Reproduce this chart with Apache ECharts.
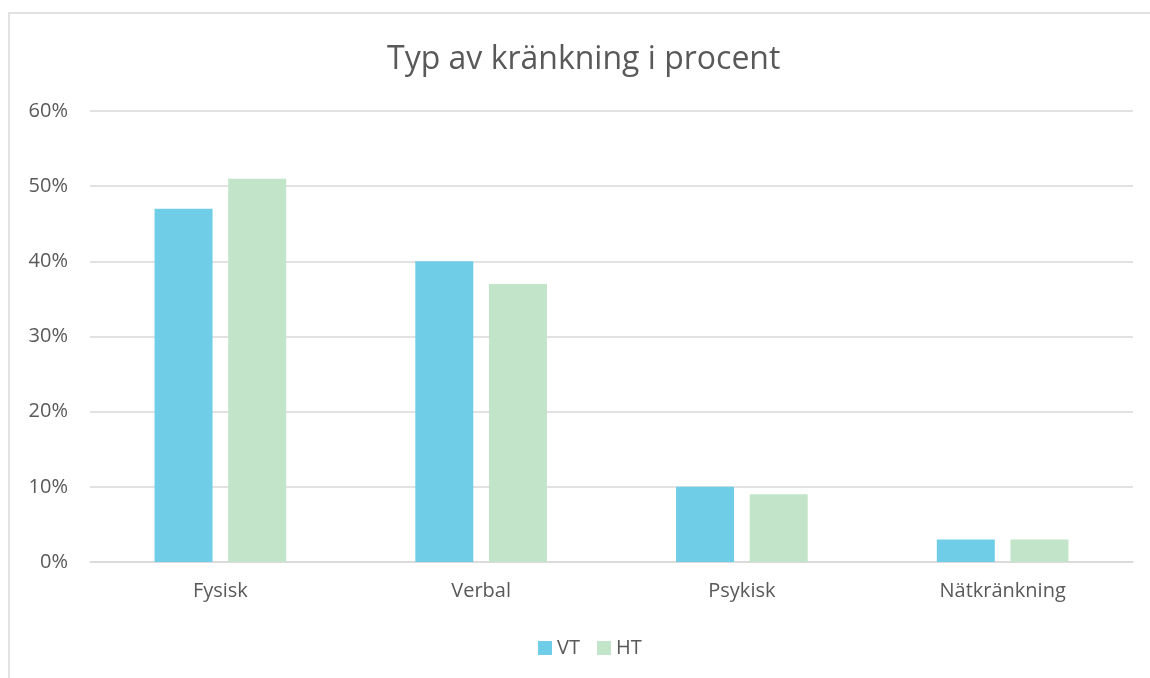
<!DOCTYPE html>
<html>
<head>
    <meta charset="utf-8" />
    <title>Typ av kränkning i procent</title>
    <script src="https://cdn.jsdelivr.net/npm/echarts@6/dist/echarts.min.js"></script>
    <style>
        html, body { margin: 0; padding: 0; background: #fff; }
        #main { width: 1150px; height: 678px; }
    </style>
</head>
<body>
<div id="main"></div>
<script type="text/javascript">
    // data
    var categories = ['Fysisk', 'Verbal', 'Psykisk', 'Nätkränkning'];
    var vtValues = [47, 40, 10, 3];
    var htValues = [51, 37, 9, 3];
    var seriesNames = ['VT', 'HT'];

    var txt = '#595959';
    var font = 'Open Sans';

    var option = {
        backgroundColor: '#FFFFFF',
        animation: false,
        title: {
            text: 'Typ av kränkning i procent',
            left: 382,
            top: 39,
            textStyle: { color: txt, fontSize: 32, fontWeight: 'normal', fontFamily: font }
        },
        legend: {
            bottom: 15,
            left: 533,
            itemWidth: 14,
            itemHeight: 14,
            itemGap: 17,
            icon: 'rect',
            textStyle: { color: txt, fontSize: 20, fontFamily: font },
            data: seriesNames
        },
        grid: { left: 90, right: 17, top: 111, bottom: 116, containLabel: false },
        xAxis: {
            type: 'category',
            data: categories,
            axisLine: { lineStyle: { color: '#D9D9D9', width: 1.5 } },
            axisTick: { show: false },
            axisLabel: { color: txt, fontSize: 20, fontFamily: font, margin: 19 }
        },
        yAxis: {
            type: 'value',
            min: 0,
            max: 60,
            interval: 10,
            axisLine: { show: false },
            axisTick: { show: false },
            splitLine: { lineStyle: { color: '#D9D9D9', width: 1.5 } },
            axisLabel: { color: txt, fontSize: 20, fontFamily: font, margin: 22,
                formatter: '{value}%' }
        },
        graphic: [{
            type: 'rect',
            shape: { x: 9, y: 13, width: 1200, height: 700 },
            style: { fill: 'none', stroke: '#D9D9D9', lineWidth: 1.5 },
            silent: true
        }],
        series: [{
            name: seriesNames[0],
            type: 'bar',
            data: vtValues,
            barWidth: 58,
            barGap: '27%',
            itemStyle: { color: '#6FCDE8' }
        }, {
            name: seriesNames[1],
            type: 'bar',
            data: htValues,
            barWidth: 58,
            itemStyle: { color: '#C2E4C8' }
        }]
    };

    var myChart = echarts.init(document.getElementById('main'));
    myChart.setOption(option);
</script>
</body>
</html>
